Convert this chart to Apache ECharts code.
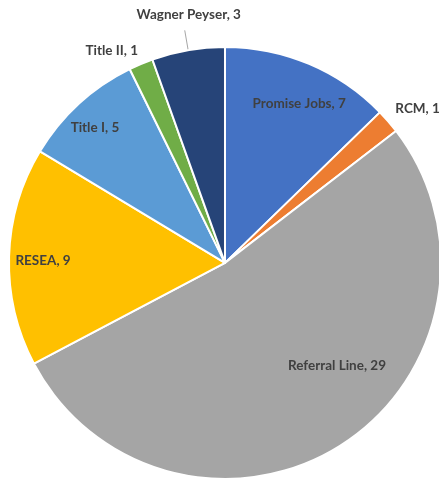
<!DOCTYPE html>
<html>
<head>
<meta charset="utf-8">
<script src="https://cdn.jsdelivr.net/npm/echarts@6/dist/echarts.min.js"></script>
<style>
  html, body { margin: 0; padding: 0; background: #ffffff; }
  #chart { width: 439px; height: 478px; }
</style>
</head>
<body>
<div id="chart"></div>
<script>
// Referral sources, clockwise from 12 o'clock
const categories = ['Promise Jobs', 'RCM', 'Referral Line', 'RESEA', 'Title I', 'Title II', 'Wagner Peyser'];
const counts = [7, 1, 29, 9, 5, 1, 3];

// Office-style slice colours
const sliceColors = ['#4472C4', '#ED7D31', '#A5A5A5', '#FFC000', '#5B9BD5', '#70AD47', '#264478'];

// Which labels sit inside their slice, and nudges from the default spot
const insideLabels = ['Promise Jobs', 'Referral Line', 'RESEA', 'Title I'];
const labelNudge = {
  'Promise Jobs': [31, -57],
  'Referral Line': [52, 9],
  'RESEA': [-71, 1],
  'Title I': [-55, -53],
  'RCM': [-13, 0],
  'Title II': [10, 5],
  'Wagner Peyser': [9, -9]
};

const chart = echarts.init(document.getElementById('chart'), null, { renderer: 'canvas' });

const seriesData = categories.map((name, i) => {
  const inside = insideLabels.indexOf(name) >= 0;
  return {
    name: name,
    value: counts[i],
    itemStyle: { color: sliceColors[i] },
    label: { position: inside ? 'inside' : 'outside' },
    labelLine: { show: name === 'Wagner Peyser' }
  };
});

chart.setOption({
  animation: false,
  backgroundColor: '#ffffff',
  series: [{
    type: 'pie',
    center: ['51.25%', '55%'],
    radius: 216,
    startAngle: 90,
    clockwise: true,
    avoidLabelOverlap: false,
    itemStyle: { borderColor: '#ffffff', borderWidth: 2 },
    label: {
      show: true,
      formatter: '{b}, {c}',
      fontFamily: 'Lato',
      fontWeight: 'bold',
      fontSize: 13.5,
      color: '#404040'
    },
    labelLine: {
      length: 20,
      length2: 0,
      lineStyle: { color: '#a6a6a6', width: 1 }
    },
    labelLayout: function (params) {
      const name = categories[params.dataIndex];
      const d = labelNudge[name] || [0, 0];
      const out = { dx: d[0], dy: d[1] };
      if (name === 'Wagner Peyser') {
        out.align = 'center';
        out.verticalAlign = 'bottom';
      }
      return out;
    },
    data: seriesData
  }]
});
</script>
</body>
</html>
